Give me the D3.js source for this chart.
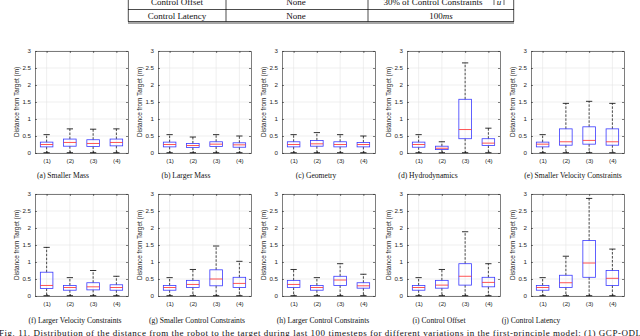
<!DOCTYPE html>
<html>
<head>
<meta charset="utf-8">
<script src="https://cdn.jsdelivr.net/npm/d3@7/dist/d3.min.js"></script>
<style>
  body { margin: 0; background: #fff; }
  svg { display: block; }
  .tick text { font-family: "Liberation Sans", Arial, sans-serif; }
</style>
</head>
<body>
<div class="chart"></div>
<script>
// Box plot data: one row per panel (a..j), one value per method (1..4)
var methods = ["(1)", "(2)", "(3)", "(4)"];
var captions = [
  "(a) Smaller Mass", "(b) Larger Mass", "(c) Geometry", "(d) Hydrodynamics",
  "(e) Smaller Velocity Constraints", "(f) Larger Velocity Constraints",
  "(g) Smaller Control Constraints", "(h) Larger Control Constraints",
  "(i) Control Offset", "(j) Control Latency"
];
var yTicks = [0, 0.5, 1, 1.5, 2, 2.5, 3];

var lower = [
  [0.01, 0.01, 0.01, 0.01], [0.01, 0.01, 0.01, 0.01], [0.01, 0.01, 0.01, 0.01],
  [0.01, 0.01, 0.01, 0.01], [0.01, 0.01, 0.01, 0.01], [0.01, 0.01, 0.01, 0.01],
  [0.01, 0.01, 0.01, 0.01], [0.01, 0.01, 0.01, 0.01], [0.01, 0.01, 0.01, 0.01],
  [0.01, 0.01, 0.01, 0.01]
];
var q1 = [
  [0.18, 0.20, 0.19, 0.21], [0.18, 0.16, 0.19, 0.17], [0.18, 0.20, 0.18, 0.18],
  [0.17, 0.10, 0.42, 0.22], [0.18, 0.23, 0.26, 0.23], [0.22, 0.17, 0.18, 0.17],
  [0.17, 0.25, 0.30, 0.25], [0.25, 0.17, 0.31, 0.23], [0.17, 0.23, 0.32, 0.27],
  [0.17, 0.25, 0.55, 0.31]
];
var median = [
  [0.25, 0.31, 0.28, 0.31], [0.25, 0.22, 0.26, 0.24], [0.25, 0.27, 0.25, 0.25],
  [0.25, 0.14, 0.69, 0.29], [0.26, 0.33, 0.37, 0.33], [0.31, 0.25, 0.27, 0.25],
  [0.25, 0.34, 0.50, 0.37], [0.34, 0.25, 0.47, 0.30], [0.25, 0.32, 0.58, 0.40],
  [0.25, 0.39, 0.97, 0.52]
];
var q3 = [
  [0.32, 0.41, 0.39, 0.41], [0.32, 0.28, 0.33, 0.30], [0.33, 0.37, 0.33, 0.31],
  [0.32, 0.20, 1.58, 0.42], [0.32, 0.71, 0.77, 0.71], [0.70, 0.31, 0.39, 0.33],
  [0.31, 0.46, 0.77, 0.55], [0.46, 0.31, 0.58, 0.39], [0.31, 0.46, 0.95, 0.55],
  [0.31, 0.61, 1.63, 0.75]
];
var upper = [
  [0.54, 0.71, 0.70, 0.71], [0.54, 0.47, 0.54, 0.50], [0.54, 0.60, 0.54, 0.50],
  [0.54, 0.33, 2.65, 0.73], [0.54, 1.46, 1.52, 1.46], [1.43, 0.54, 0.75, 0.58],
  [0.54, 0.78, 1.47, 1.02], [0.78, 0.54, 0.95, 0.64], [0.54, 0.78, 1.89, 0.95],
  [0.54, 1.17, 2.87, 1.38]
];

var svgWidth = 640;
var svgHeight = 336;
var panelW = 93;
var panelH = 102;
var colLeft = [35, 158, 282, 407, 531];
var rowTop = [51, 194];
var captionX = [63, 186, 316, 428, 573, 75, 197, 323, 439, 531];
var captionY = [178, 323];

var svg = d3.select(".chart")
  .append("svg")
  .attr("width", svgWidth)
  .attr("height", svgHeight);

// ---- table fragment at the top ----
var table = svg.append("g");
var tl = 128, tr = 514;
function hline(yy) {
  table.append("line").attr("x1", tl).attr("x2", tr).attr("y1", yy).attr("y2", yy)
    .attr("stroke", "#000").attr("stroke-width", 0.7);
}
hline(9.5);
hline(21.5);
hline(23);
[tl + 0.3, 226, 368, tr - 0.3].forEach(function (x) {
  table.append("line").attr("x1", x).attr("x2", x).attr("y1", 0).attr("y2", 21.5)
    .attr("stroke", "#000").attr("stroke-width", 0.7);
});
[494, 504].forEach(function (x) {
  table.append("line").attr("x1", x).attr("x2", x).attr("y1", -3).attr("y2", 5)
    .attr("stroke", "#000").attr("stroke-width", 0.6);
});
var tableRows = [
  ["Control Offset", "None", "30% of Control Constraints", 4.5],
  ["Control Latency", "None", "100", 18.5]
];
tableRows.forEach(function (r) {
  var t = table.append("g").attr("font-family", "Liberation Serif, Times New Roman, serif")
    .attr("font-size", 9).attr("text-anchor", "middle").attr("fill", "#111");
  t.append("text").attr("x", 177).attr("y", r[3]).text(r[0]);
  t.append("text").attr("x", 296).attr("y", r[3]).text(r[1]);
  if (r[2] == "100") {
    var tx = t.append("text").attr("x", 441).attr("y", r[3]);
    tx.append("tspan").text("100");
    tx.append("tspan").attr("font-style", "italic").text("ms");
  } else {
    t.append("text").attr("x", 433).attr("y", r[3]).text(r[2]);
    t.append("text").attr("x", 499).attr("y", r[3]).attr("font-style", "italic").text("u");
  }
});

// ---- box plot panels ----
function drawPanel(i) {
  var col = i % 5, row = Math.floor(i / 5);
  var g = svg.append("g")
    .attr("transform", `translate(${colLeft[col]}, ${rowTop[row]})`);

  var x = d3.scaleLinear().domain([0.5, 4.5]).range([0, panelW]);
  var y = d3.scaleLinear().domain([0, 3]).range([panelH, 0]);

  // grid
  g.selectAll(".gy").data(yTicks).enter().append("line")
    .attr("x1", 0).attr("x2", panelW)
    .attr("y1", d => y(d)).attr("y2", d => y(d))
    .attr("stroke", "#e4e4e4").attr("stroke-width", 0.6);
  g.selectAll(".gx").data(d3.range(1, 5)).enter().append("line")
    .attr("x1", d => x(d)).attr("x2", d => x(d))
    .attr("y1", 0).attr("y2", panelH)
    .attr("stroke", "#e4e4e4").attr("stroke-width", 0.6);

  // axes (ticks pointing inward like MATLAB)
  var leftAxis = d3.axisLeft(y).tickValues(yTicks).tickSizeInner(-2).tickSizeOuter(0)
    .tickPadding(4).tickFormat(d3.format("~g"));
  var bottomAxis = d3.axisBottom(x).tickValues(d3.range(1, 5)).tickSizeInner(-2)
    .tickSizeOuter(0).tickPadding(6).tickFormat((d, k) => methods[k]);
  g.append("g").call(leftAxis);
  g.append("g").attr("transform", `translate(0, ${panelH})`).call(bottomAxis);
  g.append("g").attr("transform", `translate(${panelW}, 0)`)
    .call(d3.axisRight(y).tickValues(yTicks).tickSizeInner(-2).tickSizeOuter(0).tickFormat(""));
  g.append("g")
    .call(d3.axisTop(x).tickValues(d3.range(1, 5)).tickSizeInner(-2).tickSizeOuter(0).tickFormat(""));
  g.selectAll(".domain, .tick line").attr("stroke", "#262626").attr("stroke-width", 0.6);
  g.selectAll(".tick text").attr("font-size", 6.2).attr("fill", "#262626");

  // y label
  g.append("text")
    .attr("transform", "rotate(-90)")
    .attr("x", -panelH / 2)
    .attr("y", -16)
    .attr("text-anchor", "middle")
    .attr("font-family", "Liberation Sans, Arial, sans-serif")
    .attr("font-size", 6.4)
    .attr("fill", "#262626")
    .text("Distance from Target (m)");

  var bw = x(1.27) - x(0.73);
  var cw = bw / 2;
  var items = d3.range(4).map(k => ({
    k: k, lo: lower[i][k], q1: q1[i][k], med: median[i][k], q3: q3[i][k], hi: upper[i][k]
  }));

  var boxes = g.selectAll(".bx").data(items).enter().append("g");
  // whiskers
  boxes.append("line")
    .attr("x1", d => x(d.k + 1)).attr("x2", d => x(d.k + 1))
    .attr("y1", d => y(d.q3)).attr("y2", d => y(d.hi))
    .attr("stroke", "#000").attr("stroke-width", 0.7).attr("stroke-dasharray", "2.5,1.5");
  boxes.append("line")
    .attr("x1", d => x(d.k + 1)).attr("x2", d => x(d.k + 1))
    .attr("y1", d => y(d.q1)).attr("y2", d => y(d.lo))
    .attr("stroke", "#000").attr("stroke-width", 0.7).attr("stroke-dasharray", "2.5,1.5");
  // caps
  boxes.append("line")
    .attr("x1", d => x(d.k + 1) - cw / 2).attr("x2", d => x(d.k + 1) + cw / 2)
    .attr("y1", d => y(d.hi)).attr("y2", d => y(d.hi))
    .attr("stroke", "#000").attr("stroke-width", 0.8);
  boxes.append("line")
    .attr("x1", d => x(d.k + 1) - cw / 2).attr("x2", d => x(d.k + 1) + cw / 2)
    .attr("y1", d => y(d.lo)).attr("y2", d => y(d.lo))
    .attr("stroke", "#000").attr("stroke-width", 0.8);
  // box
  boxes.append("rect")
    .attr("x", d => x(d.k + 1) - bw / 2)
    .attr("width", bw)
    .attr("y", d => y(d.q3))
    .attr("height", d => y(d.q1) - y(d.q3))
    .attr("fill", "none")
    .attr("stroke", "#3a3aff")
    .attr("stroke-width", 0.8);
  // median
  boxes.append("line")
    .attr("x1", d => x(d.k + 1) - bw / 2).attr("x2", d => x(d.k + 1) + bw / 2)
    .attr("y1", d => y(d.med)).attr("y2", d => y(d.med))
    .attr("stroke", "#ff2a2a").attr("stroke-width", 0.8);

  // caption
  svg.append("text")
    .attr("x", captionX[i])
    .attr("y", captionY[row])
    .attr("text-anchor", "middle")
    .attr("font-family", "Liberation Serif, Times New Roman, serif")
    .attr("font-size", 7.6)
    .attr("fill", "#111")
    .text(captions[i]);
}

d3.range(10).forEach(drawPanel);

// figure caption (cut at the bottom edge)
svg.append("text")
  .attr("x", -1)
  .attr("y", 336)
  .attr("font-family", "Liberation Serif, Times New Roman, serif")
  .attr("font-size", 9)
  .attr("fill", "#111")
  .attr("textLength", 642)
  .text("Fig. 11.  Distribution of the distance from the robot to the target during last 100 timesteps for different variations in the first-principle model: (1) GCP-ODL");
</script>
</body>
</html>
